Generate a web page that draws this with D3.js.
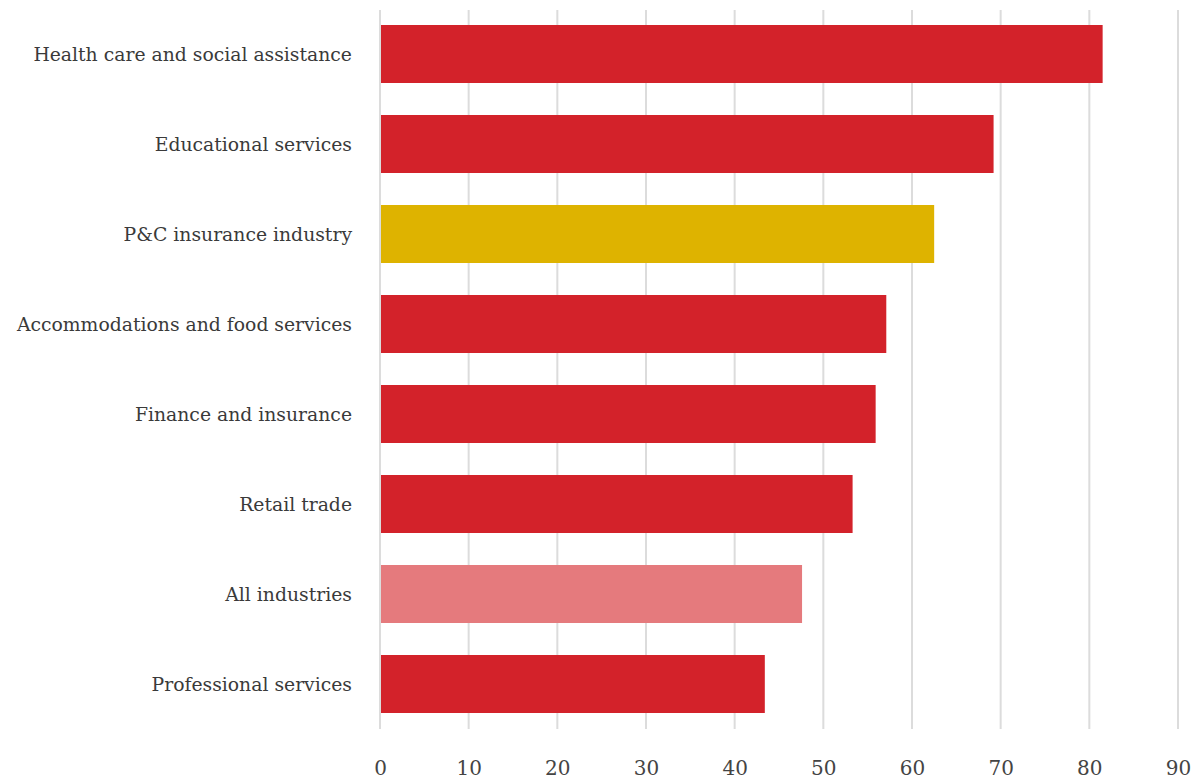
<!DOCTYPE html>
<html>
<head>
<meta charset="utf-8">
<script src="https://cdn.jsdelivr.net/npm/d3@7"></script>
<style>
  body { margin: 0; background: #fff; }
  svg text { font-family: "DejaVu Serif", serif; }
</style>
</head>
<body>
<div id="chart"></div>
<script>
var categories = [
  "Health care and social assistance",
  "Educational services",
  "P&C insurance industry",
  "Accommodations and food services",
  "Finance and insurance",
  "Retail trade",
  "All industries",
  "Professional services"
];
var values = [81.5, 69.2, 62.5, 57.1, 55.9, 53.3, 47.6, 43.4];
var colors = ["#d3222a", "#d3222a", "#deb300", "#d3222a", "#d3222a", "#d3222a", "#e57a7d", "#d3222a"];
var ticks = [0, 10, 20, 30, 40, 50, 60, 70, 80, 90];

var W = 1196, H = 780;
var margin = { top: 10, right: 18, bottom: 51, left: 380 };

var svg = d3.select("#chart").append("svg")
  .attr("width", W)
  .attr("height", H);

var x = d3.scaleLinear()
  .domain([0, 90])
  .range([margin.left, W - margin.right]);

// step of 90px, bars ~58px tall
var y = d3.scaleBand()
  .domain(categories)
  .range([9, 729])
  .paddingInner(32 / 90)
  .paddingOuter(16 / 90);

// gridlines
svg.append("g").selectAll("line")
  .data(ticks)
  .enter().append("line")
  .attr("x1", function(d) { return x(d); })
  .attr("x2", function(d) { return x(d); })
  .attr("y1", margin.top)
  .attr("y2", H - margin.bottom)
  .attr("stroke", "#dcdcdc")
  .attr("stroke-width", 2);

// bars
svg.append("g").selectAll("rect")
  .data(values)
  .enter().append("rect")
  .attr("x", x(0) + 1)
  .attr("y", function(d, i) { return y(categories[i]); })
  .attr("width", function(d) { return x(d) - x(0) - 1; })
  .attr("height", y.bandwidth())
  .attr("fill", function(d, i) { return colors[i]; });

// category labels
svg.append("g").selectAll("text")
  .data(categories)
  .enter().append("text")
  .attr("x", margin.left - 28)
  .attr("y", function(d) { return y(d) + y.bandwidth() / 2; })
  .attr("dy", "0.35em")
  .attr("text-anchor", "end")
  .attr("font-size", 18.8)
  .attr("fill", "#3a3a3a")
  .text(function(d) { return d; });

// x axis labels
var xAxis = d3.axisBottom(x).tickValues(ticks).tickSize(0).tickPadding(0);
var gx = svg.append("g")
  .attr("transform", "translate(0," + (H - 19) + ")")
  .call(xAxis);
gx.select(".domain").remove();
gx.selectAll("text")
  .attr("font-size", 20)
  .attr("font-family", "DejaVu Serif Condensed, DejaVu Serif, serif")
  .attr("fill", "#444");
</script>
</body>
</html>
